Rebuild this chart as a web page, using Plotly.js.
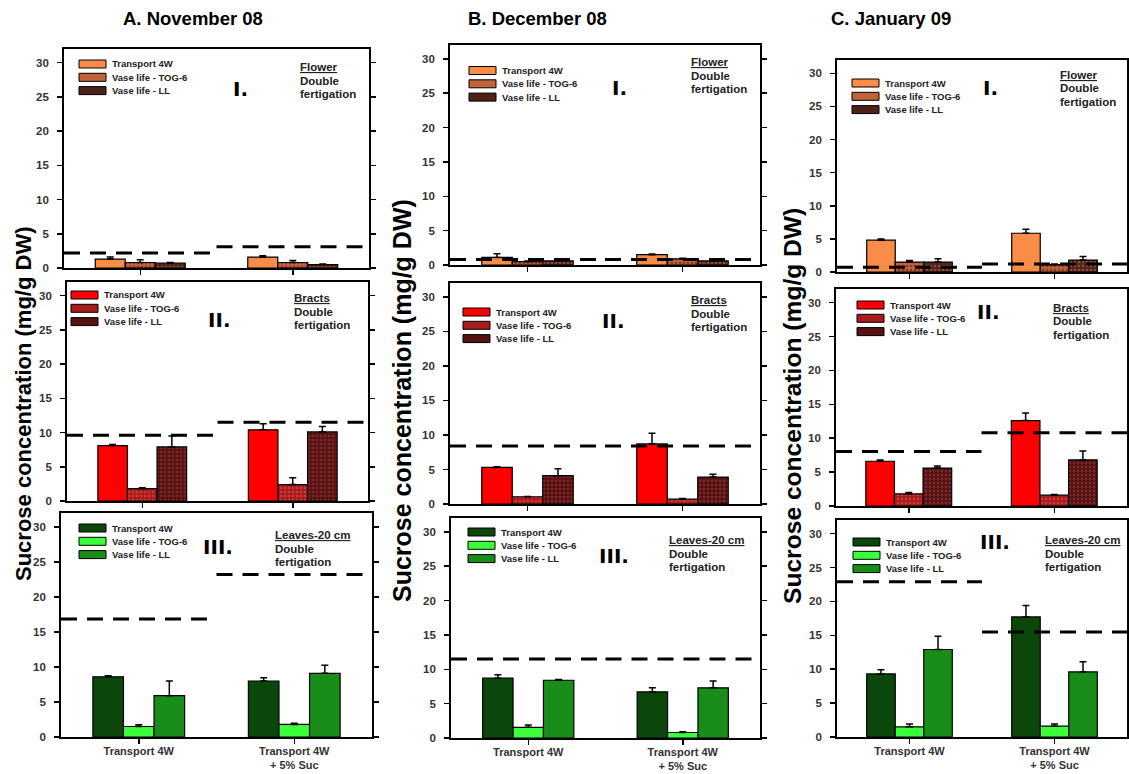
<!DOCTYPE html>
<html><head><meta charset="utf-8">
<script src="https://cdn.plot.ly/plotly-3.0.1.min.js"></script>
<style>html,body{margin:0;padding:0;background:#fff}#chart{width:1129px;height:774px}</style>
</head><body><div id="chart"></div>
<script>
// ---------- DATA ----------
const categories = ['Transport 4W', 'Transport 4W<br>+ 5% Suc'];
const seriesNames = ['Transport 4W', 'Vase life - TOG-6', 'Vase life - LL'];
const monthTitles = ['A. November 08', 'B. December 08', 'C. January 09'];
const organNames = ['Flower', 'Bracts', 'Leaves-20 cm'];
const panelNumerals = ['I.', 'II.', 'III.'];
const treatmentLines = ['Double', 'fertigation'];
const yAxisTitle = 'Sucrose concentration (mg/g DW)';
const yTicks = [0, 5, 10, 15, 20, 25, 30];

// rows of each mean/err array: [Transport 4W, Vase life - TOG-6, Vase life - LL]; columns: categories
const novFlowerMean = [[1.3, 1.6], [0.8, 0.8], [0.7, 0.5]];
const novFlowerErr  = [[0.3, 0.2], [0.4, 0.3], [0.1, 0.1]];
const novFlowerRef  = [2.2, 3.1];
const novBractsMean = [[8.1, 10.4], [1.8, 2.4], [7.9, 10.1]];
const novBractsErr  = [[0.15, 0.9], [0.15, 1.0], [1.6, 0.8]];
const novBractsRef  = [9.6, 11.5];
const novLeavesMean = [[8.6, 8.0], [1.5, 1.8], [5.9, 9.1]];
const novLeavesErr  = [[0.15, 0.45], [0.25, 0.15], [2.1, 1.15]];
const novLeavesRef  = [16.85, 23.2];

const decFlowerMean = [[1.1, 1.5], [0.5, 0.9], [0.6, 0.6]];
const decFlowerErr  = [[0.55, 0.1], [0.1, 0.1], [0.1, 0.1]];
const decFlowerRef  = [0.8, 0.8];
const decBractsMean = [[5.3, 8.7], [1.05, 0.7], [4.1, 3.9]];
const decBractsErr  = [[0.1, 1.55], [0.05, 0.1], [1.0, 0.4]];
const decBractsRef  = [8.4, 8.4];
const decLeavesMean = [[8.7, 6.7], [1.55, 0.8], [8.4, 7.3]];
const decLeavesErr  = [[0.5, 0.6], [0.35, 0.1], [0.1, 1.0]];
const decLeavesRef  = [11.5, 11.5];

const janFlowerMean = [[4.8, 5.85], [1.5, 1.1], [1.5, 1.8]];
const janFlowerErr  = [[0.2, 0.6], [0.25, 0.1], [0.5, 0.55]];
const janFlowerRef  = [0.7, 1.2];
const janBractsMean = [[6.6, 12.6], [1.8, 1.6], [5.6, 6.8]];
const janBractsErr  = [[0.2, 1.1], [0.2, 0.1], [0.3, 1.3]];
const janBractsRef  = [8.05, 10.8];
const janLeavesMean = [[9.3, 17.7], [1.5, 1.6], [12.9, 9.6]];
const janLeavesErr  = [[0.6, 1.7], [0.4, 0.3], [1.95, 1.5]];
const janLeavesRef  = [22.9, 15.5];

// panel table: [column][row]
const panelData = [
  [[novFlowerMean, novFlowerErr, novFlowerRef], [novBractsMean, novBractsErr, novBractsRef], [novLeavesMean, novLeavesErr, novLeavesRef]],
  [[decFlowerMean, decFlowerErr, decFlowerRef], [decBractsMean, decBractsErr, decBractsRef], [decLeavesMean, decLeavesErr, decLeavesRef]],
  [[janFlowerMean, janFlowerErr, janFlowerRef], [janBractsMean, janBractsErr, janBractsRef], [janLeavesMean, janLeavesErr, janLeavesRef]]
];

// ---------- STYLE / GEOMETRY ----------
const W = 1129, H = 774;
const px = x => x / W, py = y => 1 - y / H;
// plot boxes in pixels: [left, right, top, bottom]
const boxes = [
  [[64, 369, 49, 268], [67, 368, 282, 501], [61, 372, 513, 737]],
  [[450, 760, 45, 265], [450, 760, 283, 504], [451, 760, 518, 738]],
  [[837, 1127, 60, 272], [836, 1127, 289, 506], [837, 1127, 520, 737]]
];
const rowStyles = [
  [{c: '#F98C46'}, {c: '#C0623A', dots: '#8A3A1E'}, {c: '#4E2218', dots: '#8B4A36'}],
  [{c: '#FF0000'}, {c: '#A81C1C', dots: '#CC3A3A'}, {c: '#561212', dots: '#7A2A2A'}],
  [{c: '#0B470B'}, {c: '#3CFF3C'}, {c: '#1A8C1A'}]
];
const numeralPos = [[[240, 89], [219, 320], [218, 547]], [[619, 88], [613, 321], [614, 556]], [[990, 88], [988, 312], [995, 542]]];
const organPos = [[[298, 67], [292, 298], [273, 535]], [[689, 62], [689, 300], [667, 540]], [[1058, 75], [1051, 308], [1043, 540]]];
const legendPos = [[[79, 64], [71, 295], [79, 528]], [[469, 70.5], [463, 312], [468, 532]], [[852, 83], [857, 305], [853, 542]]];
const titlePos = [193, 537, 891];
const yTitlePos = [[23, 404, 22], [402, 401, 25], [792, 406, 24.6]];

const FONT = 'Liberation Sans, Arial, sans-serif';
const traces = [];
const layout = {
  width: W, height: H, margin: {l: 0, r: 0, t: 0, b: 0},
  paper_bgcolor: '#ffffff', plot_bgcolor: '#ffffff',
  showlegend: false, barmode: 'group', bargap: 0.41, bargroupgap: 0,
  annotations: [], shapes: []
};

let n = 0;
for (let col = 0; col < 3; col++) {
  for (let row = 0; row < 3; row++) {
    n++;
    const sfx = n === 1 ? '' : String(n);
    const xa = 'x' + sfx, ya = 'y' + sfx;
    const b = boxes[col][row];
    const [mean, err, ref] = panelData[col][row];
    const catIdx = categories.map((_, i) => i);

    layout['xaxis' + sfx] = {
      domain: [px(b[0]), px(b[1])], anchor: ya, range: [-0.5, 1.5],
      tickmode: 'array', tickvals: catIdx, ticktext: categories,
      showticklabels: row === 2, ticks: 'outside', ticklen: 5, tickwidth: 1.5, tickcolor: '#000',
      ticklabelstandoff: -2,
      showline: true, linecolor: '#000', linewidth: 1.8, mirror: true,
      showgrid: false, zeroline: false, fixedrange: true,
      tickfont: {family: FONT, size: 11, color: '#333', weight: 'bold'}
    };
    layout['yaxis' + sfx] = {
      domain: [py(b[3]), py(b[2])], anchor: xa, range: [0, 32],
      tickmode: 'array', tickvals: yTicks,
      ticks: 'outside', ticklen: 5, tickwidth: 1.5, tickcolor: '#000', ticklabelstandoff: 6,
      showline: true, linecolor: '#000', linewidth: 1.8, mirror: 'ticks',
      showgrid: false, zeroline: false, fixedrange: true,
      tickfont: {family: FONT, size: 11.5, color: '#333', weight: 'bold'}
    };

    seriesNames.forEach((name, s) => {
      const st = rowStyles[row][s];
      const marker = {color: st.c, line: {color: '#000', width: 1.2}};
      if (st.dots) marker.pattern = {shape: '.', bgcolor: st.c, fgcolor: st.dots, size: 4, solidity: 0.35};
      traces.push({
        type: 'bar', name: name, x: catIdx, y: mean[s], xaxis: xa, yaxis: ya,
        marker: marker,
        error_y: {type: 'data', symmetric: false, array: err[s], arrayminus: err[s].map(() => 0),
                  color: '#000', thickness: 1.5, width: 3.5},
        hoverinfo: 'y'
      });
    });

    ref.forEach((v, i) => {
      traces.push({
        type: 'scatter', mode: 'lines', x: [i - 0.5, i + 0.5], y: [v, v], xaxis: xa, yaxis: ya,
        line: {color: '#000', width: 3, dash: '16px,10px'}, hoverinfo: 'skip', cliponaxis: false
      });
    });

    // panel numeral
    const np = numeralPos[col][row];
    layout.annotations.push({xref: 'paper', yref: 'paper', x: px(np[0]), y: py(np[1]), xanchor: 'center', yanchor: 'middle',
      text: panelNumerals[row], showarrow: false, font: {family: 'DejaVu Sans, sans-serif', size: 20, color: '#000', weight: 'bold'}});

    // organ / treatment text
    const op = organPos[col][row];
    const lines = ['<span style="text-decoration:underline">' + organNames[row] + '</span>'].concat(treatmentLines);
    lines.forEach((t, i) => {
      layout.annotations.push({xref: 'paper', yref: 'paper', x: px(op[0]), y: py(op[1] + i * 13.5), xanchor: 'left', yanchor: 'middle',
        text: t, showarrow: false, font: {family: FONT, size: 11.5, color: '#222', weight: 'bold'}});
    });

    // legend
    const lp = legendPos[col][row];
    seriesNames.forEach((name, s) => {
      const yc = lp[1] + s * 13.3;
      layout.shapes.push({type: 'rect', xref: 'paper', yref: 'paper', x0: px(lp[0]), x1: px(lp[0] + 27), y0: py(yc + 4), y1: py(yc - 4),
        fillcolor: rowStyles[row][s].c, line: {color: '#000', width: 1}});
      layout.annotations.push({xref: 'paper', yref: 'paper', x: px(lp[0] + 31), y: py(yc), xanchor: 'left', yanchor: 'middle',
        text: name, showarrow: false, font: {family: FONT, size: 9.5, color: '#222', weight: 'bold'}});
    });
  }
}

monthTitles.forEach((t, i) => {
  layout.annotations.push({xref: 'paper', yref: 'paper', x: px(titlePos[i]), y: py(19), xanchor: 'center', yanchor: 'middle',
    text: t, showarrow: false, font: {family: FONT, size: 18.5, color: '#000', weight: 'bold'}});
});
yTitlePos.forEach(p => {
  layout.annotations.push({xref: 'paper', yref: 'paper', x: px(p[0]), y: py(p[1]), xanchor: 'center', yanchor: 'middle',
    textangle: -90, text: yAxisTitle, showarrow: false, font: {family: FONT, size: p[2], color: '#000', weight: 'bold'}});
});

Plotly.newPlot('chart', traces, layout, {displayModeBar: false, staticPlot: true});
</script>
</body></html>
